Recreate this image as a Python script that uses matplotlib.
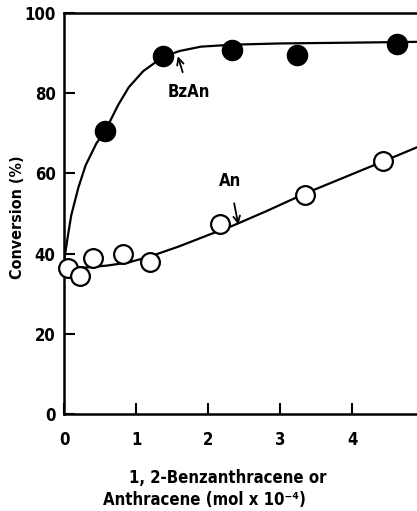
import matplotlib
matplotlib.use("Agg")
import matplotlib.pyplot as plt

# Data
bz_x = [0.57, 1.37, 2.33, 3.24, 4.62]
bz_y = [70.5, 89.3, 90.8, 89.6, 92.3]
an_x = [0.06, 0.22, 0.40, 0.82, 1.19, 2.17, 3.35, 4.43]
an_y = [36.5, 34.3, 39.0, 39.8, 37.8, 47.3, 54.5, 63.0]

# Fitted curves
bz_cx = [0.0, 0.05, 0.1, 0.2, 0.3, 0.45, 0.57, 0.75, 0.9, 1.1, 1.37, 1.6, 1.9, 2.35, 3.0, 4.0, 4.9]
bz_cy = [38.0, 44.0, 49.5, 56.5, 62.0, 67.5, 70.5, 77.0, 81.5, 85.5, 89.0, 90.5, 91.6, 92.1, 92.4, 92.6, 92.8]
an_cx = [0.0, 0.1, 0.3, 0.6, 0.9, 1.2, 1.6, 2.0, 2.35, 2.8, 3.35, 4.0, 4.5, 4.9]
an_cy = [38.0, 36.8, 36.5, 37.0, 37.8, 39.3, 41.8, 44.6, 47.0, 50.5, 55.0, 59.8, 63.5, 66.5]

plt.rcParams['font.family'] = ['DejaVu Sans']
plt.rcParams['font.stretch'] = 'condensed'
plt.rcParams['font.weight'] = 'bold'
plt.rcParams['axes.labelweight'] = 'bold'

fig = plt.figure(figsize=(4.17, 5.11), dpi=100)
ax = fig.add_axes([0.1535, 0.19, 0.8465, 0.7846])

ax.plot(bz_cx, bz_cy, color='black', lw=1.6, zorder=2)
ax.plot(an_cx, an_cy, color='black', lw=1.6, zorder=2)
ax.plot(bz_x, bz_y, 'o', ms=14.5, mfc='black', mec='black', zorder=3, clip_on=False)
ax.plot(an_x, an_y, 'o', ms=13.5, mfc='white', mec='black', mew=1.6, zorder=3, clip_on=False)

ax.annotate('BzAn', xy=(1.58, 89.2), xytext=(1.73, 80.3), ha='center', va='center',
            fontsize=12,
            arrowprops=dict(arrowstyle='->', color='black', lw=1.3, shrinkA=6, shrinkB=0))
ax.annotate('An', xy=(2.42, 47.2), xytext=(2.3, 58.2), ha='center', va='center',
            fontsize=12,
            arrowprops=dict(arrowstyle='->', color='black', lw=1.3, shrinkA=8, shrinkB=0))

ax.set_xlim(0, 4.9)
ax.set_ylim(0, 100)
ax.set_xticks([0, 1, 2, 3, 4])
ax.set_yticks([0, 20, 40, 60, 80, 100])
ax.tick_params(axis='both', direction='in', length=8, width=1.5, labelsize=12)
ax.tick_params(axis='x', pad=12)
ax.tick_params(axis='y', pad=6)
ax.text(5, -6.5, '5', ha='center', va='top', fontsize=12, clip_on=False)

for s in ['left', 'bottom', 'top']:
    ax.spines[s].set_linewidth(1.8)
ax.spines['right'].set_visible(False)

ax.set_ylabel('Conversion (%)', fontsize=11.5)
ax.yaxis.set_label_coords(-0.11, 0.49)
fig.text(0.545, 0.0646, '1, 2-Benzanthracene or', ha='center', va='center', fontsize=12)
fig.text(0.49, 0.022, 'Anthracene (mol x 10⁻⁴)', ha='center', va='center', fontsize=12)

fig.savefig('out.png', dpi=100)
